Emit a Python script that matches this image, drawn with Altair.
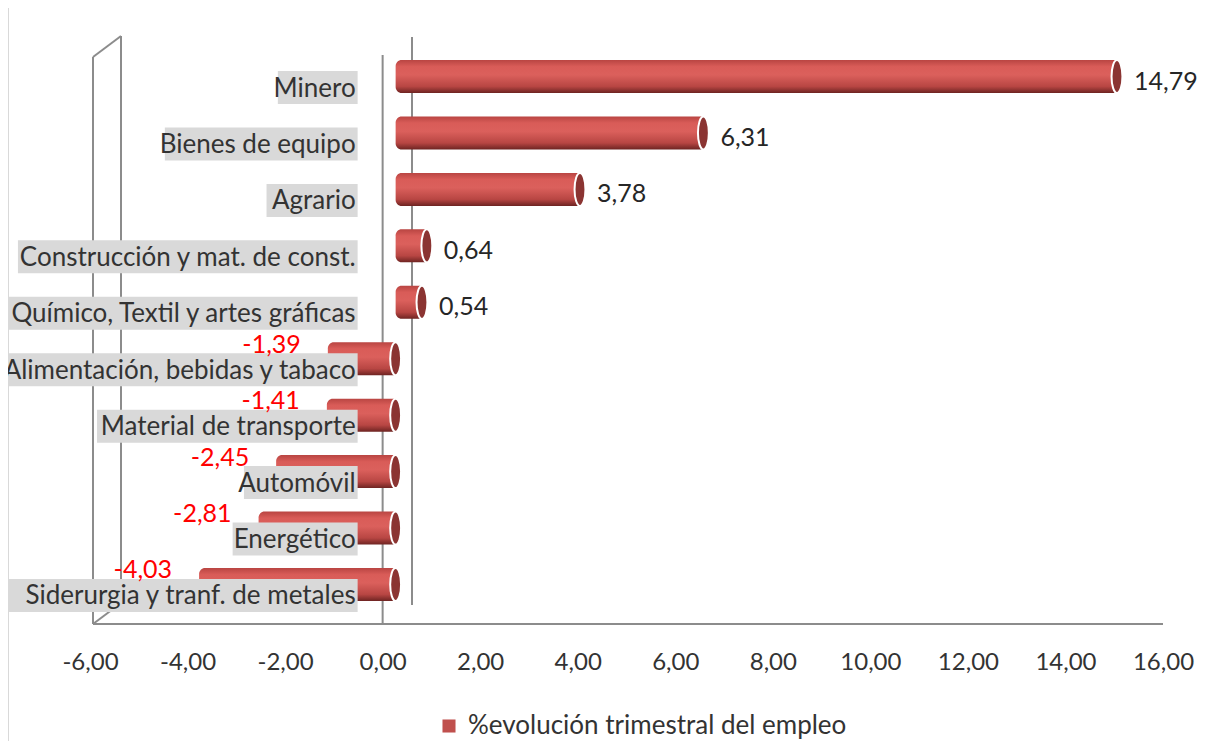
import altair as alt
import pandas as pd

categorias = [
    "Minero",
    "Bienes de equipo",
    "Agrario",
    "Construcción y mat. de const.",
    "Químico, Textil y artes gráficas",
    "Alimentación, bebidas y tabaco",
    "Material de transporte",
    "Automóvil",
    "Energético",
    "Siderurgia y tranf. de metales",
]
valores = [14.79, 6.31, 3.78, 0.64, 0.54, -1.39, -1.41, -2.45, -2.81, -4.03]
serie = "%evolución trimestral del empleo"
ticks = [-6, -4, -2, 0, 2, 4, 6, 8, 10, 12, 14, 16]

W, H = 1073, 587
DOM = [-6, 16]
pxu = W / (DOM[1] - DOM[0])
FONT = "Lato"

df = pd.DataFrame({"cat": categorias, "v": valores, "serie": serie})

lbl_expr = "(datum.v < 0 ? '-' : '') + replace(format(abs(datum.v), '.2f'), '.', ',')"

base = alt.Chart(df).transform_calculate(
    lbl=lbl_expr,
    cap="max(datum.v, 0)",
    box_r=f"{-25 / pxu}",
    box_l=f"{-25 / pxu} - (length(datum.cat) * 11.3 + 12) / {pxu}",
)

xsc = alt.Scale(domain=DOM, nice=False, zero=False)
ysc = alt.Scale(domain=categorias, paddingOuter=0.2, paddingInner=0)
Y = alt.Y("cat:N", sort=categorias, scale=ysc, axis=None)

GRAY = "#8C8C8C"

# decorative 3D frame lines
def rule(x, x2, y, y2, color=GRAY, w=2):
    return alt.Chart(df.head(1)).mark_rule(color=color, strokeWidth=w).encode(
        x=alt.value(x), x2=alt.value(x2), y=alt.value(y), y2=alt.value(y2)
    )

frame = [
    rule(-81.5, -81.5, -29, 720, color="#D9D9D9", w=1),
    rule(3, 3, 20, 587),
    rule(31, 31, -1, 568),
    rule(3, 31, 20, -1),
    rule(3, 31, 587, 566),
    rule(3, 1073, 587, 587),
    rule(322, 322, 0, 568),
]

zero_front = alt.Chart(df.head(1)).mark_rule(color=GRAY, strokeWidth=2).encode(
    x=alt.datum(0, scale=xsc,
                axis=alt.Axis(values=ticks, labelExpr="(datum.value < 0 ? '-' : '') + replace(format(abs(datum.value), '.2f'), '.', ',')",
                              title=None, domain=False, ticks=False, grid=False,
                              labelFont=FONT, labelFontSize=24, labelColor="#333333",
                              labelPadding=26, labelFlush=False, labelOverlap=False)),
    y=alt.value(18), y2=alt.value(587),
)

grad = alt.Gradient(
    gradient="linear",
    stops=[
        alt.GradientStop(color="#B94542", offset=0),
        alt.GradientStop(color="#D95C58", offset=0.2),
        alt.GradientStop(color="#DB605C", offset=0.45),
        alt.GradientStop(color="#B84643", offset=0.8),
        alt.GradientStop(color="#6E2422", offset=1),
    ],
    x1=0, x2=0, y1=0, y2=1,
)

bars = base.mark_bar(fill=grad, size=33, xOffset=13, x2Offset=13,
                     cornerRadiusTopLeft=6, cornerRadiusBottomLeft=6).encode(
    x=alt.X("v:Q", scale=xsc), x2=alt.datum(0), y=Y
)

ellipse = "M0,-1 A0.33,1 0 1,1 0,1 A0.33,1 0 1,1 0,-1 Z"
caps = base.mark_point(shape=ellipse, size=1089, filled=True, fill="#8B3432",
                       stroke="white", strokeWidth=2, opacity=1, xOffset=13).encode(
    x=alt.X("cap:Q", scale=xsc), y=Y
)

pos_lbl = base.transform_filter("datum.v >= 0").mark_text(
    align="left", baseline="middle", dx=30, dy=5, font=FONT, fontSize=25, color="#262626"
).encode(x=alt.X("v:Q", scale=xsc), y=Y, text="lbl:N")

neg_lbl = base.transform_filter("datum.v < 0").mark_text(
    align="right", baseline="middle", dx=-14, dy=-14, font=FONT, fontSize=25, color="#FF0000"
).encode(x=alt.X("v:Q", scale=xsc), y=Y, text="lbl:N")

boxes = base.mark_bar(color="#D9D9D9", size=33, yOffset=11).encode(
    x=alt.X("box_l:Q", scale=xsc), x2="box_r:Q", y=Y
)

cat_lbl = base.mark_text(
    align="right", baseline="middle", dx=-27, dy=12, font=FONT, fontSize=26, color="#333333"
).encode(x=alt.datum(0, scale=xsc), y=Y, text="cat:N")

legend_layer = base.mark_square(opacity=0).encode(
    x=alt.X("v:Q", scale=xsc), y=Y,
    color=alt.Color("serie:N", scale=alt.Scale(domain=[serie], range=["#C0504D"]),
                    legend=alt.Legend(title=None, orient="none", legendX=346, legendY=676,
                                      symbolType="square", symbolSize=170, symbolOpacity=1,
                                      symbolStrokeWidth=0, labelLimit=0,
                                      labelFont=FONT, labelFontSize=26, labelColor="#333333",
                                      labelOffset=6, padding=0)),
)

chart = alt.layer(
    *frame, zero_front, bars, caps, boxes, cat_lbl, pos_lbl, neg_lbl, legend_layer
).properties(
    width=W, height=H,
    background="white",
    autosize=alt.AutoSizeParams(type="none"),
    padding={"left": 82, "top": 29, "right": 34, "bottom": 117},
).configure_view(strokeWidth=0, stroke="transparent")

chart.save("out.html", embed_options={"renderer": "svg", "actions": False})
